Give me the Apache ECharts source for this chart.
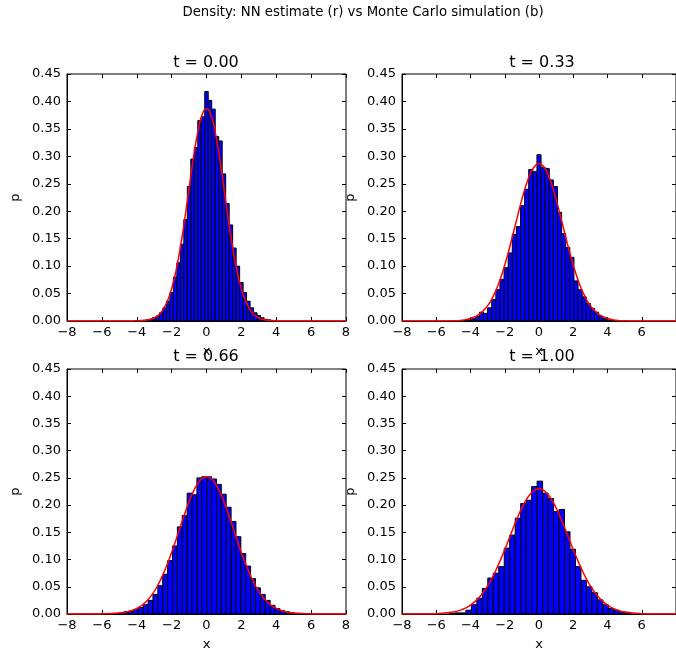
<!DOCTYPE html>
<html><head><meta charset="utf-8">
<script src="https://cdn.jsdelivr.net/npm/echarts@6/dist/echarts.min.js"></script>
<style>html,body{margin:0;padding:0;background:#fff}#c{width:676px;height:656px}</style>
</head><body><div id="c"></div>
<script>
// ---- data ----
const panelTitles = ['t = 0.00', 't = 0.33', 't = 0.66', 't = 1.00'];
const xTicks = [-8, -6, -4, -2, 0, 2, 4, 6, 8];
const yTicks = [0.00, 0.05, 0.10, 0.15, 0.20, 0.25, 0.30, 0.35, 0.40, 0.45];

// histogram bins: first bin centre and bin width per panel
const binStart = [-4.0, -4.56, -5.45, -5.07];
const binWidth = [0.2, 0.24, 0.28, 0.32];

const hist0 = [0.0005,0.001,0.001,0.002,0.003,0.006,0.009,0.015,0.024,0.036,0.052,0.080,0.106,0.140,0.185,0.245,0.295,0.316,0.365,0.372,
  0.418,0.402,0.386,0.336,0.328,0.268,0.214,0.175,0.133,0.100,0.070,0.052,0.036,0.024,0.015,0.010,0.006,0.003,0.002,0.001];
const hist33 = [0.0005,0.001,0.002,0.004,0.008,0.016,0.014,0.024,0.039,0.057,0.076,0.097,0.124,0.158,0.172,0.210,0.240,0.276,0.272,
  0.303,0.280,0.278,0.257,0.245,0.198,0.159,0.134,0.116,0.073,0.057,0.044,0.032,0.023,0.016,0.009,0.005,0.002,0.001];
const hist66 = [0.0005,0.001,0.002,0.004,0.005,0.008,0.012,0.017,0.025,0.036,0.052,0.073,0.098,0.125,0.160,0.181,0.222,0.219,
  0.250,0.252,0.252,0.248,0.238,0.220,0.196,0.170,0.142,0.111,0.088,0.065,0.048,0.036,0.025,0.016,0.010,0.006,0.004,0.002,0.001];
const hist100 = [0.001,0.002,0.002,0.007,0.017,0.029,0.047,0.066,0.075,0.087,0.121,0.145,0.176,0.203,0.209,0.234,
  0.244,0.222,0.212,0.188,0.192,0.151,0.119,0.087,0.062,0.050,0.039,0.026,0.017,0.010,0.007,0.004,0.002];

// NN density estimate (red curves)
const curveX = [-8,-7,-6,-5,-4.5,-4,-3.5,-3,-2.75,-2.5,-2.25,-2,-1.75,-1.5,-1.25,-1,-0.75,-0.5,-0.25,0,
  0.25,0.5,0.75,1,1.25,1.5,1.75,2,2.25,2.5,2.75,3,3.5,4,4.5,5,6,7,8];
const curve0 = [0,0,0,0,0,0.0002,0.0012,0.0056,0.0110,0.0204,0.0356,0.0588,0.0913,0.134,0.185,0.242,0.297,0.344,0.376,0.387,
  0.376,0.344,0.297,0.242,0.185,0.134,0.0913,0.0588,0.0356,0.0204,0.0110,0.0056,0.0012,0.0002,0,0,0,0,0];
const curve33 = [0,0,0,0.0004,0.0015,0.0046,0.0121,0.028,0.0405,0.0569,0.0774,0.1019,0.1299,0.1603,0.1915,0.2216,0.248,0.269,0.282,0.287,
  0.282,0.269,0.248,0.2216,0.1915,0.1603,0.1299,0.1019,0.0774,0.0569,0.0405,0.028,0.0121,0.0046,0.0015,0.0004,0,0,0];
const curve66 = [0,0,0.0002,0.0017,0.0044,0.0102,0.0216,0.0415,0.0554,0.072,0.0914,0.1131,0.1364,0.1605,0.1843,0.2062,0.2251,0.240,0.249,0.252,
  0.249,0.240,0.2251,0.2062,0.1843,0.1605,0.1364,0.1131,0.0914,0.072,0.0554,0.0415,0.0216,0.0102,0.0044,0.0017,0.0002,0,0];
const curve100 = [0,0.0001,0.0006,0.0036,0.008,0.0161,0.0301,0.0516,0.0655,0.0814,0.0992,0.1183,0.1383,0.1583,0.1774,0.1948,0.2095,0.2206,0.2276,0.230,
  0.2276,0.2206,0.2095,0.1948,0.1774,0.1583,0.1383,0.1183,0.0992,0.0814,0.0655,0.0516,0.0301,0.0161,0.008,0.0036,0.0006,0.0001,0];

const hists = [hist0, hist33, hist66, hist100];
const curves = [curve0, curve33, curve66, curve100];

// ---- layout ----
const FONT = 'DejaVu Sans';
const TICK_FS = 13;
const grids = [
  {left: 67, top: 74, width: 279, height: 247},
  {left: 402, top: 74, width: 280, height: 247},
  {left: 67, top: 369, width: 279, height: 245},
  {left: 402, top: 369, width: 280, height: 245}
];
const xFmt = v => v < 0 ? '\u2212' + (-v) : String(v);

const chart = echarts.init(document.getElementById('c'), null, {renderer: 'canvas'});
const xAxes = [], yAxes = [], series = [], graphics = [];
const tick = {show: true, inside: true, length: 4, lineStyle: {color: '#000', width: 1}};

grids.forEach(g => {
  g.show = true; g.borderColor = '#000'; g.borderWidth = 1; g.backgroundColor = 'transparent';
});
for (let i = 0; i < 4; i++) {
  xAxes.push({type: 'value', gridIndex: i, min: xTicks[0], max: xTicks[xTicks.length - 1], interval: 2,
    position: 'bottom', name: 'x', nameLocation: 'middle', nameGap: 24,
    nameTextStyle: {fontFamily: FONT, fontSize: TICK_FS, color: '#000'},
    axisLine: {show: true, onZero: false, lineStyle: {color: '#000', width: 1}},
    axisTick: tick, splitLine: {show: false},
    axisLabel: {fontFamily: FONT, fontSize: TICK_FS, color: '#000', margin: 5, formatter: xFmt,
      showMaxLabel: (i % 2 === 0)}});
  yAxes.push({type: 'value', gridIndex: i, min: yTicks[0], max: yTicks[yTicks.length - 1], interval: 0.05,
    position: 'left', name: 'p', nameLocation: 'middle', nameGap: 45, nameRotate: 90,
    nameTextStyle: {fontFamily: FONT, fontSize: TICK_FS, color: '#000'},
    axisLine: {show: true, onZero: false, lineStyle: {color: '#000', width: 1}},
    axisTick: tick, splitLine: {show: false},
    axisLabel: {fontFamily: FONT, fontSize: TICK_FS, color: '#000', margin: 6, formatter: v => v.toFixed(2)}});
}
for (let i = 0; i < 4; i++) {
  xAxes.push({type: 'value', gridIndex: i, min: xTicks[0], max: xTicks[xTicks.length - 1], interval: 2,
    position: 'top', axisLine: {show: false, onZero: false}, axisTick: tick, axisLabel: {show: false}, splitLine: {show: false}});
  yAxes.push({type: 'value', gridIndex: i, min: yTicks[0], max: yTicks[yTicks.length - 1], interval: 0.05,
    position: 'right', axisLine: {show: false, onZero: false}, axisTick: tick, axisLabel: {show: false}, splitLine: {show: false}});
}

for (let i = 0; i < 4; i++) {
  const data = hists[i].map((h, k) => [binStart[i] + k * binWidth[i], h, binWidth[i]]);
  series.push({
    type: 'custom', xAxisIndex: i, yAxisIndex: i, clip: true, z: 2,
    encode: {x: 0, y: 1},
    data: data,
    renderItem: function (params, api) {
      const c = api.value(0), h = api.value(1), w = api.value(2);
      const p0 = api.coord([c - w / 2, h]);
      const p1 = api.coord([c + w / 2, 0]);
      return {type: 'rect', shape: {x: p0[0], y: p0[1], width: p1[0] - p0[0], height: p1[1] - p0[1]},
        style: {fill: '#0000ff', stroke: '#000000', lineWidth: 1}};
    }
  });
  series.push({
    type: 'line', xAxisIndex: i, yAxisIndex: i, z: 5, smooth: 0.5, showSymbol: false, symbol: 'none',
    data: curveX.map((x, k) => [x, curves[i][k]]),
    lineStyle: {color: '#ff0000', width: 1.5}
  });
}

const titlePos = [[206, 63], [542, 63], [206, 357], [542, 357]];
titlePos.forEach((p, i) => graphics.push({type: 'text', x: p[0], y: p[1], z: 100,
  style: {text: panelTitles[i], fontFamily: FONT, fontSize: 16, fill: '#000', textAlign: 'center', textVerticalAlign: 'middle'}}));
graphics.push({type: 'text', x: 363, y: 13, z: 100,
  style: {text: 'Density: NN estimate (r) vs Monte Carlo simulation (b)', fontFamily: FONT, fontSize: 13.3, fill: '#000',
    textAlign: 'center', textVerticalAlign: 'middle'}});

chart.setOption({
  animation: false,
  backgroundColor: '#fff',
  grid: grids,
  xAxis: xAxes,
  yAxis: yAxes,
  series: series,
  graphic: graphics
});
</script></body></html>
